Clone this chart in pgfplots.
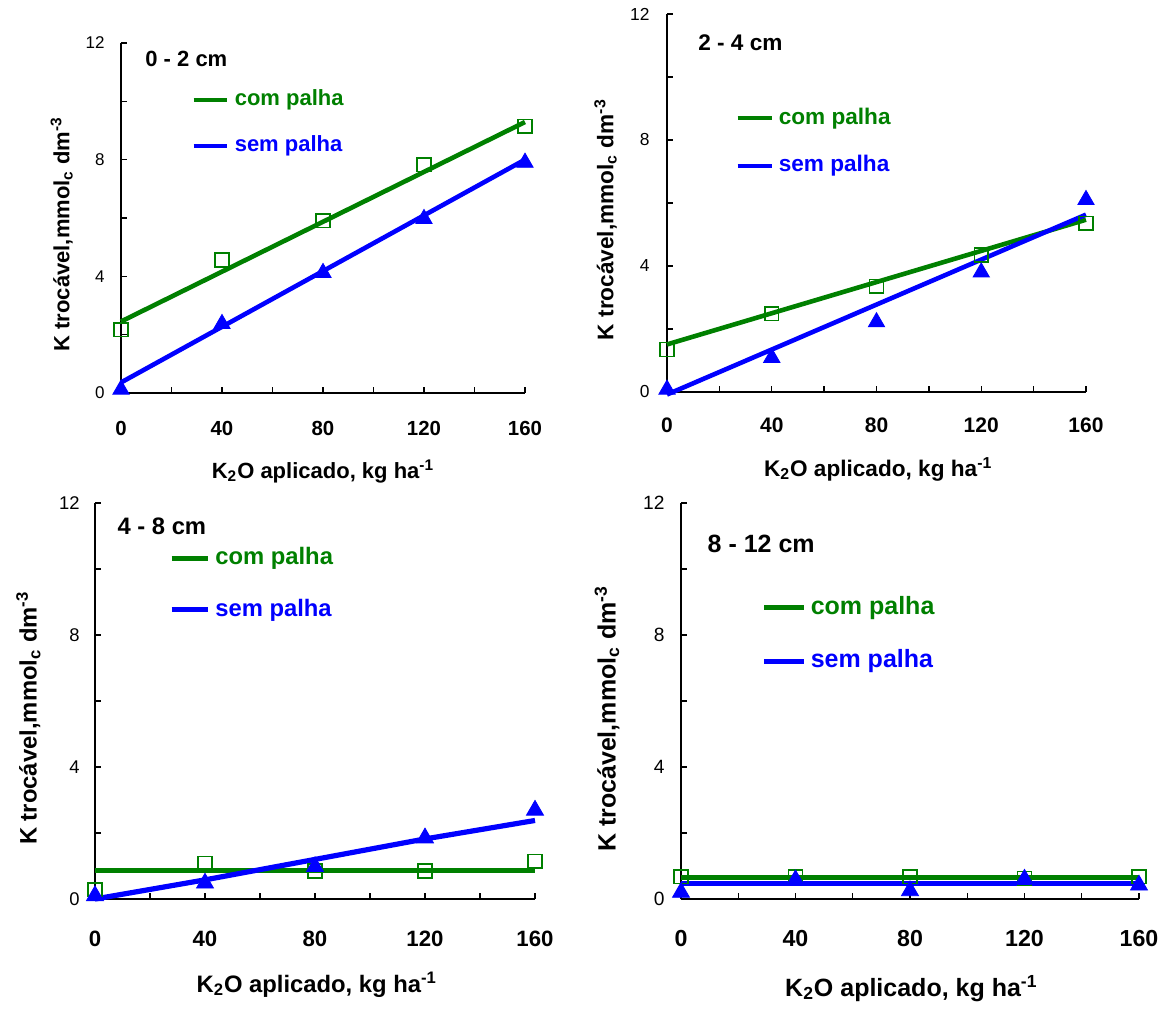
\documentclass[border=0pt]{standalone}
\usepackage{pgfplots}
\pgfplotsset{compat=1.18}
\usepackage{fontspec}
\setmainfont{Liberation Sans}
\definecolor{xgreen}{RGB}{0,128,0}
\definecolor{xblue}{RGB}{0,0,255}
\newcommand{\fs}[1]{\fontsize{#1}{#1}\selectfont}
\pgfplotsset{
 kax/.style={
  scale only axis, xmin=0, xmax=160, ymin=0, ymax=12,
  axis x line=bottom, axis y line=left,
  x axis line style={-}, y axis line style={-},
  axis line style={line width=0.65pt, black},
  tick align=inside, major tick length=3pt,
  every tick/.style={black, line width=0.65pt},
  xtick={0,20,...,160}, xticklabels={0,,40,,80,,120,,160},
  ytick={0,2,...,12}, yticklabels={0,,4,,8,,12},
  clip=false, anchor=south west,
  xlabel={K\textsubscript{2}O aplicado, kg ha\textsuperscript{-1}},
  ylabel={K trocável,mmol\textsubscript{c} dm\textsuperscript{-3}},
 },
 comm/.style={only marks, mark=square, mark size=3.4pt, xgreen, mark options={line width=0.75pt}},
 semm/.style={only marks, mark=triangle*, mark size=4.7pt, xblue},
}
\begin{document}
\begin{tikzpicture}
\path[use as bounding box] (0,0) rectangle (581.5pt,504.5pt);
% ---------- 0 - 2 cm
\begin{axis}[kax, at={(60.5pt,308pt)}, width=202pt, height=175pt,
  xticklabel style={font=\fs{10.2}\bfseries, anchor=base, yshift=-21pt},
  yticklabel style={font=\fs{8.5}, anchor=east, inner sep=0pt, xshift=-8pt},
  xlabel style={font=\fs{11}\bfseries, at={(axis description cs:0.5,0)}, anchor=base, yshift=-42.5pt},
  ylabel style={font=\fs{11}\bfseries, at={(axis description cs:-0.128,0.454)}, anchor=base}]
\addplot[xgreen, line width=2.3pt] coordinates {(0,2.45) (160,9.29)};
\addplot[xblue, line width=2.3pt] coordinates {(0,0.36) (160,8.0)};
\addplot[comm] coordinates {(0,2.17) (40,4.56) (80,5.91) (120,7.83) (160,9.14)};
\addplot[semm] coordinates {(0,0.12) (40,2.37) (80,4.12) (120,5.97) (160,7.9)};
\node[anchor=west, inner sep=0pt, font=\fs{11}\bfseries] at (axis cs:9.5,11.47) {0 - 2 cm};
\draw[xgreen, line width=2pt] (axis cs:28.8,10.06) -- (axis cs:41.9,10.06);
\node[anchor=west, inner sep=0pt, text=xgreen, font=\fs{11}\bfseries] at (axis cs:44.9,10.06) {com palha};
\draw[xblue, line width=2pt] (axis cs:28.8,8.47) -- (axis cs:41.9,8.47);
\node[anchor=west, inner sep=0pt, text=xblue, font=\fs{11}\bfseries] at (axis cs:44.9,8.47) {sem palha};
\end{axis}
% ---------- 2 - 4 cm
\begin{axis}[kax, at={(333.5pt,308.5pt)}, width=209.5pt, height=189pt,
  xticklabel style={font=\fs{10.5}\bfseries, anchor=base, yshift=-20.5pt},
  yticklabel style={font=\fs{8.7}, anchor=east, inner sep=0pt, xshift=-8.5pt},
  xlabel style={font=\fs{11.3}\bfseries, at={(axis description cs:0.504,0)}, anchor=base, yshift=-42pt},
  ylabel style={font=\fs{11.3}\bfseries, at={(axis description cs:-0.128,0.456)}, anchor=base}]
\addplot[xgreen, line width=2.3pt] coordinates {(0,1.51) (160,5.47)};
\addplot[xblue, line width=2.3pt] coordinates {(0,-0.08) (160,5.63)};
\addplot[comm] coordinates {(0,1.35) (40,2.48) (80,3.36) (120,4.35) (160,5.36)};
\addplot[semm] coordinates {(0,0.08) (40,1.09) (80,2.22) (120,3.8) (160,6.1)};
\node[anchor=west, inner sep=0pt, font=\fs{11.3}\bfseries] at (axis cs:11.8,11.09) {2 - 4 cm};
\draw[xgreen, line width=2pt] (axis cs:26.95,8.69) -- (axis cs:40.1,8.69);
\node[anchor=west, inner sep=0pt, text=xgreen, font=\fs{11.3}\bfseries] at (axis cs:42.55,8.69) {com palha};
\draw[xblue, line width=2pt] (axis cs:26.95,7.19) -- (axis cs:40.1,7.19);
\node[anchor=west, inner sep=0pt, text=xblue, font=\fs{11.3}\bfseries] at (axis cs:42.55,7.19) {sem palha};
\end{axis}
% ---------- 4 - 8 cm
\begin{axis}[kax, at={(47.5pt,55pt)}, width=220pt, height=198pt,
  xticklabel style={font=\fs{11.1}\bfseries, anchor=base, yshift=-23.5pt},
  yticklabel style={font=\fs{9.2}, anchor=east, inner sep=0pt, xshift=-7.5pt},
  xlabel style={font=\fs{11.9}\bfseries, at={(axis description cs:0.504,0)}, anchor=base, yshift=-46.5pt},
  ylabel style={font=\fs{11.9}\bfseries, at={(axis description cs:-0.1325,0.457)}, anchor=base}]
\addplot[xgreen, line width=2.6pt] coordinates {(0,0.86) (160,0.86)};
\addplot[xblue, line width=2.6pt] coordinates {(0,0) (40,0.58) (80,1.2) (120,1.82) (160,2.38)};
\addplot[comm] coordinates {(0,0.28) (40,1.08) (80,0.85) (120,0.85) (160,1.15)};
\addplot[semm, mark size=4.9pt] coordinates {(0,0.1) (40,0.48) (80,0.98) (120,1.85) (160,2.69)};
\node[anchor=west, inner sep=0pt, font=\fs{11.9}\bfseries] at (axis cs:8.05,11.3) {4 - 8 cm};
\draw[xgreen, line width=2.5pt] (axis cs:27.9,10.33) -- (axis cs:41.2,10.33);
\node[anchor=west, inner sep=0pt, text=xgreen, font=\fs{11.9}\bfseries] at (axis cs:43.6,10.33) {com palha};
\draw[xblue, line width=2.5pt] (axis cs:27.9,8.76) -- (axis cs:41.2,8.76);
\node[anchor=west, inner sep=0pt, text=xblue, font=\fs{11.9}\bfseries] at (axis cs:43.6,8.76) {sem palha};
\end{axis}
% ---------- 8 - 12 cm
\begin{axis}[kax, at={(340.5pt,55pt)}, width=229pt, height=198pt,
  xticklabel style={font=\fs{11.6}\bfseries, anchor=base, yshift=-23.5pt},
  yticklabel style={font=\fs{9.6}, anchor=east, inner sep=0pt, xshift=-8pt},
  xlabel style={font=\fs{12.5}\bfseries, at={(axis description cs:0.503,0)}, anchor=base, yshift=-48.5pt},
  ylabel style={font=\fs{12.5}\bfseries, at={(axis description cs:-0.143,0.455)}, anchor=base}]
\addplot[xgreen, line width=2.6pt] coordinates {(0,0.64) (160,0.64)};
\addplot[xblue, line width=2.6pt] coordinates {(0,0.48) (160,0.48)};
\addplot[comm] coordinates {(0,0.67) (40,0.67) (80,0.67) (120,0.62) (160,0.67)};
\addplot[semm, mark size=4.9pt] coordinates {(0,0.2) (40,0.58) (80,0.25) (120,0.6) (160,0.42)};
\node[anchor=west, inner sep=0pt, font=\fs{12.5}\bfseries] at (axis cs:9.2,10.77) {8 - 12 cm};
\draw[xgreen, line width=2.5pt] (axis cs:29.1,8.82) -- (axis cs:42.8,8.82);
\node[anchor=west, inner sep=0pt, text=xgreen, font=\fs{12.5}\bfseries] at (axis cs:45.2,8.82) {com palha};
\draw[xblue, line width=2.5pt] (axis cs:29.1,7.2) -- (axis cs:42.8,7.2);
\node[anchor=west, inner sep=0pt, text=xblue, font=\fs{12.5}\bfseries] at (axis cs:45.2,7.2) {sem palha};
\end{axis}
\end{tikzpicture}
\end{document}
